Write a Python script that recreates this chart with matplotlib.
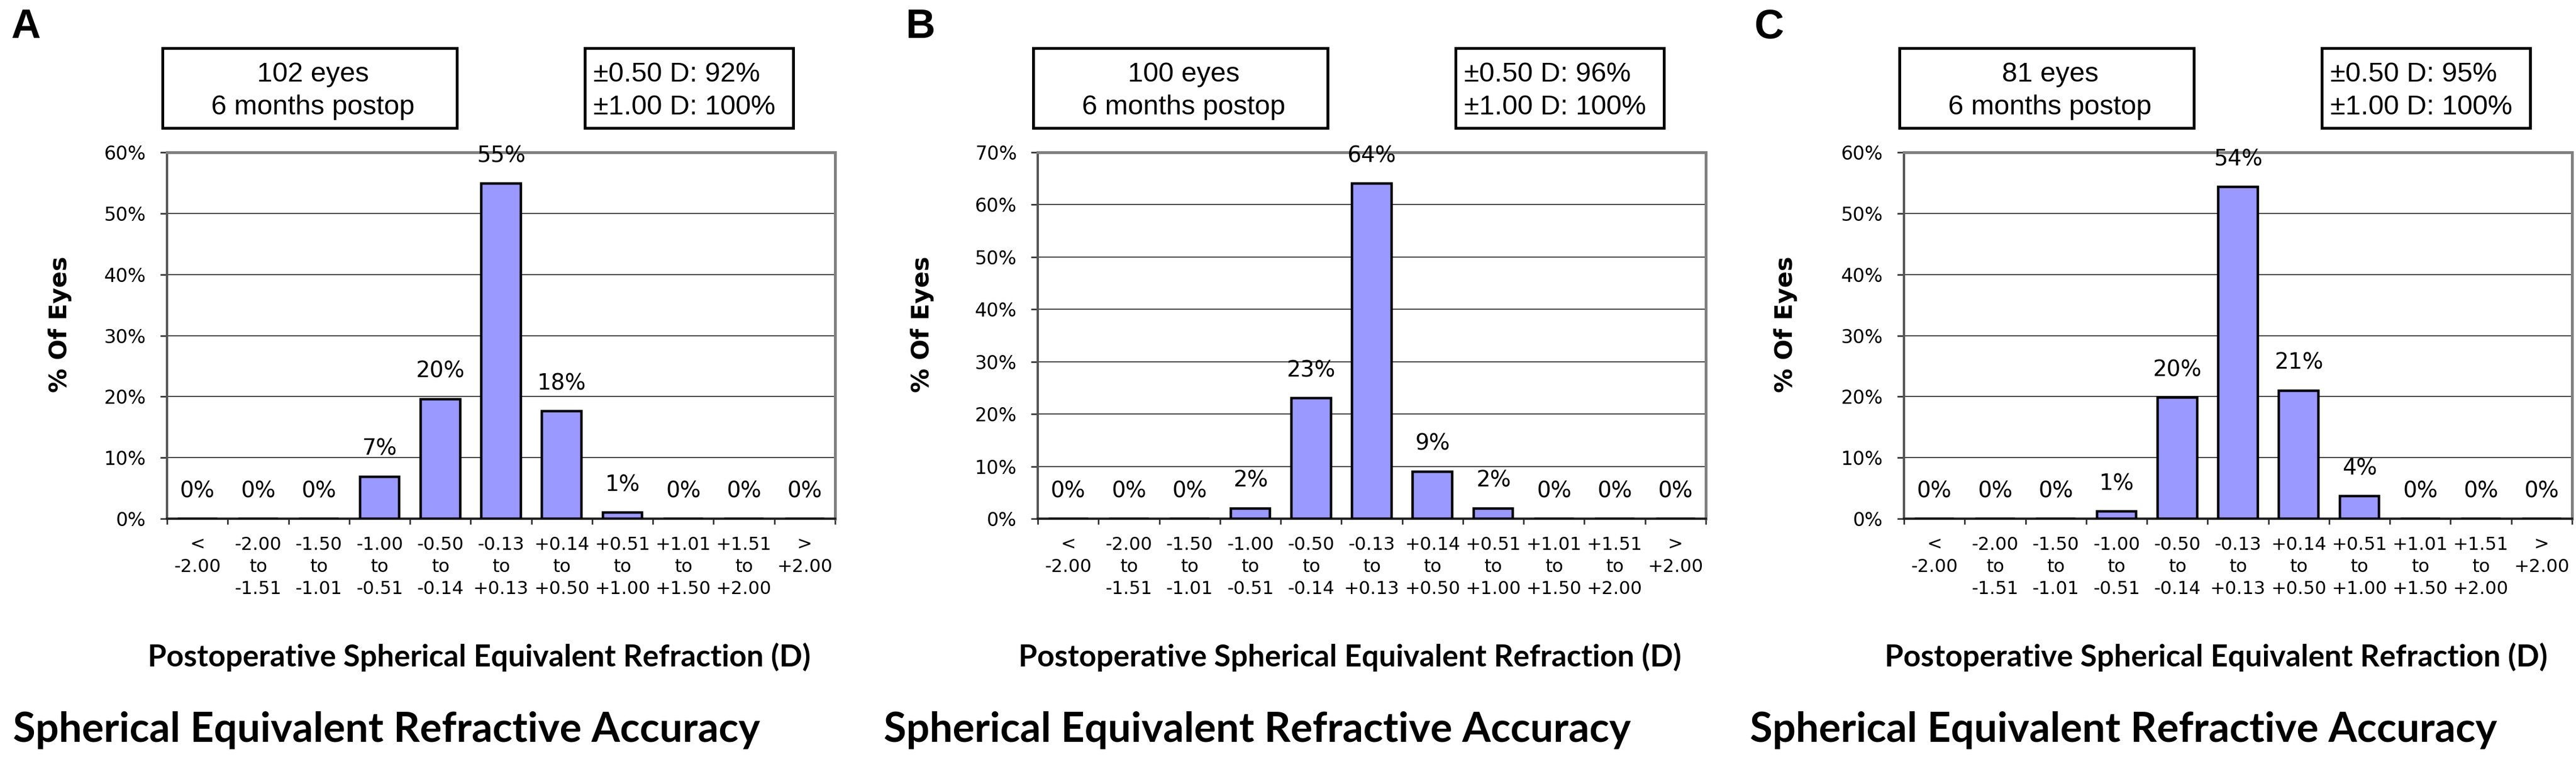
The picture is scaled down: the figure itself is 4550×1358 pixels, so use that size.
import matplotlib
matplotlib.use('Agg')
import matplotlib.pyplot as plt
from matplotlib.patches import Rectangle
import numpy as np

W, H = 4550, 1358
DPI = 100

# data
categories = ['<\n-2.00', '-2.00\nto\n-1.51', '-1.50\nto\n-1.01', '-1.00\nto\n-0.51',
              '-0.50\nto\n-0.14', '-0.13\nto\n+0.13', '+0.14\nto\n+0.50', '+0.51\nto\n+1.00',
              '+1.01\nto\n+1.50', '+1.51\nto\n+2.00', '>\n+2.00']
vals_a = [0, 0, 0, 6.9, 19.6, 54.9, 17.6, 1.0, 0, 0, 0]
vals_b = [0, 0, 0, 2, 23, 64, 9, 2, 0, 0, 0]
vals_c = [0, 0, 0, 1.2, 19.8, 54.3, 21.0, 3.7, 0, 0, 0]
letters = ['A', 'B', 'C']
eyes = ['102 eyes', '100 eyes', '81 eyes']
within_050 = [92, 96, 95]
within_100 = [100, 100, 100]
ymax = [60, 70, 60]

xlabel = 'Postoperative Spherical Equivalent Refraction (D)'
title = 'Spherical Equivalent Refractive Accuracy'

fig = plt.figure(figsize=(W / DPI, H / DPI), dpi=DPI)


def fx(px):
    return px / W


def fy(py):
    return 1 - py / H


def fit_width(t, target):
    r = fig.canvas.get_renderer()
    w = t.get_window_extent(r).width
    t.set_fontsize(t.get_fontsize() * target / w)


ax_left = [295, 1833, 3363]
ylab_off = [189, 204, 209]
ax_w = 1180
ax_top, ax_bot = 269, 916
letter_x = [19, 1599, 3099]
box_font = ['Liberation Sans', 'DejaVu Sans']

for i, vals in enumerate([vals_a, vals_b, vals_c]):
    left = ax_left[i]
    ax = fig.add_axes([fx(left), fy(ax_bot), ax_w / W, (ax_bot - ax_top) / H])
    x = np.arange(len(categories))
    bars = ax.bar(x, vals, width=0.65, color='#9999ff', edgecolor='black',
                  linewidth=3.2, zorder=3)
    ax.bar_label(bars, labels=[f'{v:.0f}%' for v in vals], padding=21.5,
                 fontsize=28, family='DejaVu Sans')

    ax.set_xlim(-0.5, 10.5)
    ax.set_ylim(0, ymax[i])
    yt = list(range(0, ymax[i] + 1, 10))
    ax.set_yticks(yt)
    ax.set_yticklabels([f'{t}%' for t in yt])
    ax.yaxis.grid(True, color='#333333', lw=1.3)
    ax.set_axisbelow(True)

    ax.set_xticks(np.arange(-0.5, 11, 1))
    ax.set_xticklabels([])
    ax.set_xticks(x, minor=True)
    ax.set_xticklabels(categories, minor=True, fontsize=23, linespacing=1.34)
    ax.tick_params(axis='x', which='minor', length=0, pad=22)
    ax.tick_params(axis='x', which='major', length=7, width=2, color='#333333')
    ax.tick_params(axis='y', length=8.6, width=2, pad=18, labelsize=24, color='#333333')

    ax.spines['top'].set_color('#808080')
    ax.spines['right'].set_color('#808080')
    ax.spines['top'].set_linewidth(3.6)
    ax.spines['right'].set_linewidth(3.6)
    ax.spines['left'].set_color('#555555')
    ax.spines['left'].set_linewidth(3)
    ax.spines['bottom'].set_color('#222222')
    ax.spines['bottom'].set_linewidth(3)

    # y label
    fig.text(fx(left - ylab_off[i]), fy(573), '% Of Eyes', rotation=90, ha='center',
             va='center', fontsize=31, fontweight='bold', family='DejaVu Sans')

    # x label and title
    t = fig.text(fx(left + 551), fy(1177), xlabel, ha='center', va='baseline',
                 fontsize=30, fontweight='bold', family=['Lato', 'DejaVu Sans'])
    fit_width(t, 1169)
    t = fig.text(fx(left - 272), fy(1310), title, ha='left', va='baseline',
                 fontsize=44, fontweight='bold', family=['Lato', 'DejaVu Sans'])
    fit_width(t, 1320)

    # panel letter
    fig.text(fx(letter_x[i]), fy(67), letters[i], ha='left', va='baseline',
             fontsize=52, fontweight='bold', family=box_font)

    # info boxes
    b1l, b1r = left - 8, left - 8 + 520
    b2l, b2r = left + 738, left + 738 + 368
    bt, bb = 85, 226
    for bl, br in [(b1l, b1r), (b2l, b2r)]:
        fig.add_artist(Rectangle((fx(bl), fy(bb)), (br - bl) / W, (bb - bt) / H,
                                 transform=fig.transFigure, facecolor='white',
                                 edgecolor='black', linewidth=3.6))
    fig.text(fx((b1l + b1r) / 2 + 6), fy(202), f'{eyes[i]}\n6 months postop',
             ha='center', va='baseline', multialignment='center', fontsize=35,
             linespacing=1.37, family=box_font)
    fig.text(fx(b2l + 15), fy(202),
             f'\u00b10.50 D: {within_050[i]}%\n\u00b11.00 D: {within_100[i]}%',
             ha='left', va='baseline', fontsize=35, linespacing=1.37,
             family=box_font)

fig.savefig('out.png', dpi=DPI, facecolor='white')
